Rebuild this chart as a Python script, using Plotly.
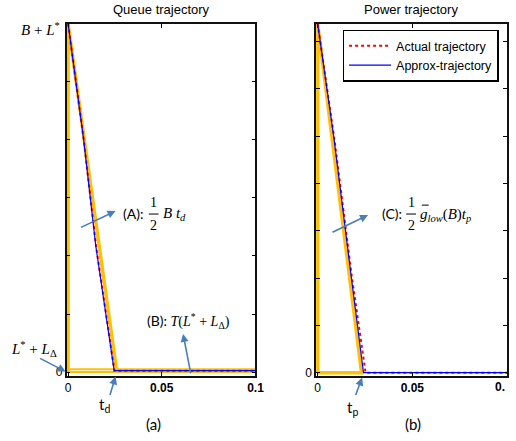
import plotly.graph_objects as go

# ---------------- data ----------------
# Queue trajectory (left)
q_time_actual = [0, 0.00825, 0.0149, 0.0237, 0.0247, 0.1]
q_actual = [6.0, 4.03, 2.17, 0.22, 0.025, 0.025]
q_time_approx = [0, 0.0082, 0.0148, 0.0236, 0.0246, 0.1]
q_approx = [6.0, 4.03, 2.17, 0.22, 0.025, 0.025]
q_bound_x = [0, 0, 0.026]
q_bound_y = [0, 6.0, 0]
q_band_x = [0, 0.1, 0.1, 0, 0]
q_band_y = [0, 0, 0.05, 0.05, 0]

# Power trajectory (right)
p_time_actual = [0, 0.00876, 0.018, 0.0253, 0.1]
p_actual = [7.375, 4.96, 2.04, 0, 0]
p_time_approx = [0, 0.0086, 0.0177, 0.0242, 0.1]
p_approx = [7.375, 4.96, 2.04, 0, 0]
p_bound_x = [0, 0, 0.0232, 0]
p_bound_y = [0, 7.375, 0, 0]

x_tickvals = [0, 0.05, 0.1]
x_ticktext = ["0", "<b>0.05</b>", "<b>0.1</b>"]
x2_ticktext = ["0", "<b>0.05</b>", ""]   # last label is cut at the page edge
q_yticks = [0, 1, 2, 3, 4, 5, 6]
p_yticks = [0, 1, 2, 3, 4, 5, 6, 7]

W, H = 516, 441
ORANGE = "#FFC000"
ARROW = "#4A7EBB"
SANS = "Liberation Sans"
SERIF = "Liberation Serif"
LABEL = "Lato"


def px(x):
    return x / W


def py(y):
    return 1 - y / H


fig = go.Figure()

# left panel
fig.add_trace(go.Scatter(x=q_bound_x, y=q_bound_y, mode="lines",
                         line=dict(color=ORANGE, width=3.5), showlegend=False,
                         xaxis="x", yaxis="y"))
fig.add_trace(go.Scatter(x=q_band_x, y=q_band_y, mode="lines",
                         line=dict(color=ORANGE, width=2), showlegend=False,
                         xaxis="x", yaxis="y"))
fig.add_trace(go.Scatter(x=q_time_actual, y=q_actual, mode="lines",
                         line=dict(color="red", width=2, dash="dot"),
                         name="Actual trajectory", legendrank=1,
                         xaxis="x", yaxis="y"))
fig.add_trace(go.Scatter(x=q_time_approx, y=q_approx, mode="lines",
                         line=dict(color="blue", width=1.2),
                         name="Approx-trajectory", legendrank=2,
                         xaxis="x", yaxis="y"))

# right panel
fig.add_trace(go.Scatter(x=p_bound_x, y=p_bound_y, mode="lines",
                         line=dict(color=ORANGE, width=3.5), showlegend=False,
                         xaxis="x2", yaxis="y2"))
fig.add_trace(go.Scatter(x=p_time_actual, y=p_actual, mode="lines",
                         line=dict(color="red", width=2, dash="dot"),
                         showlegend=False, xaxis="x2", yaxis="y2"))
fig.add_trace(go.Scatter(x=p_time_approx, y=p_approx, mode="lines",
                         line=dict(color="blue", width=1.2),
                         showlegend=False, xaxis="x2", yaxis="y2"))

axis_common = dict(showgrid=False, zeroline=False, showline=True,
                   linecolor="#111", linewidth=1.5, mirror="ticks",
                   ticks="inside", ticklen=4, tickcolor="black",
                   tickfont=dict(family=SANS, size=12, color="black"))

yd = [py(379), py(24)]
fig.update_layout(
    width=W, height=H, autosize=False,
    margin=dict(l=0, r=0, t=0, b=0),
    paper_bgcolor="white", plot_bgcolor="white",
    xaxis=dict(domain=[px(66), px(259)], range=[-0.0008, 0.1],
               tickvals=x_tickvals, ticktext=x_ticktext, anchor="y",
               **axis_common),
    yaxis=dict(domain=yd, range=[-0.06, 6.0], tickvals=q_yticks,
               ticktext=["0", "", "", "", "", "", ""], anchor="x",
               **axis_common),
    xaxis2=dict(domain=[px(321), 1.0], range=[-0.0008, 0.1],
                tickvals=x_tickvals, ticktext=x2_ticktext, anchor="y2",
                **axis_common),
    yaxis2=dict(domain=yd, range=[-0.06, 7.375], tickvals=p_yticks,
                ticktext=["0"] + [""] * 7, anchor="x2",
                **axis_common),
    legend=dict(x=px(348), y=py(30), xanchor="left", yanchor="top",
                bgcolor="white", bordercolor="black", borderwidth=1.5,
                font=dict(family=SANS, size=12.5, color="black"),
                itemwidth=42, tracegroupgap=0),
    showlegend=True,
)

anns = []


def text(t, x, y, size, family, xanchor="center", yanchor="middle"):
    anns.append(dict(text=t, x=px(x), y=py(y), xref="paper", yref="paper",
                     xanchor=xanchor, yanchor=yanchor, showarrow=False,
                     font=dict(family=family, size=size, color="black")))


def arrow(tail, head):
    anns.append(dict(text="", x=px(head[0]), y=py(head[1]), xref="paper",
                     yref="paper", ax=tail[0] - head[0], ay=tail[1] - head[1],
                     showarrow=True, arrowhead=2, arrowsize=1, arrowwidth=1.6,
                     arrowcolor=ARROW, standoff=0, startstandoff=0))


text("Queue trajectory", 163, 10, 13, SANS)
text("Power trajectory", 418, 10, 13, SANS)
text("<i>B</i> + <i>L</i><sup>*</sup>", 61, 29, 15, SERIF, xanchor="right")
text("<i>L</i><sup>*</sup> + <i>L</i><sub>Δ</sub>", 33, 352, 15, SERIF)
text("<b>0.</b>", 516, 391, 12, SANS, xanchor="right")

# (A)
text("(A):", 122, 215, 14, LABEL, xanchor="left")
text("1", 155, 204, 14, SERIF)
text("2", 155, 228, 14, SERIF)
text("<i>B t</i><sub><i>d</i></sub>", 162, 216, 15, SERIF, xanchor="left")
# (B)
text("(B):<span style='font-family:Liberation Serif'> <i>T</i>(<i>L</i><sup>*</sup> + <i>L</i><sub>Δ</sub>)</span>",
     146, 324, 14, LABEL, xanchor="left")
# (C)
text("(C):", 386, 215, 14, LABEL, xanchor="left")
text("1", 418, 204, 14, SERIF)
text("2", 418, 228, 14, SERIF)
text("<i>g</i><sub><i>low</i></sub>(<i>B</i>)<i>t</i><sub><i>p</i></sub>",
     425, 217, 15, SERIF, xanchor="left")

text("t<sub>d</sub>", 105, 409, 15, LABEL)
text("(a)", 155, 428, 15, LABEL)
text("t<sub>p</sub>", 358, 412, 15, LABEL)
text("(b)", 420, 428, 15, LABEL)

arrow((38, 361), (65, 375))
arrow((110, 400), (116, 380))
arrow((193, 378), (185, 337))
arrow((80, 230), (116, 213))
arrow((337, 235), (374, 217))
arrow((361, 400), (368, 381))

fig.update_layout(annotations=anns)

shapes = [
    dict(type="line", xref="paper", yref="paper", x0=px(150), x1=px(160),
         y0=py(216), y1=py(216), line=dict(color="black", width=1)),
    dict(type="line", xref="paper", yref="paper", x0=px(413), x1=px(423),
         y0=py(216), y1=py(216), line=dict(color="black", width=1)),
    dict(type="line", xref="paper", yref="paper", x0=px(429), x1=px(436),
         y0=py(207), y1=py(207), line=dict(color="black", width=1)),
]
fig.update_layout(shapes=shapes)

fig.write_html("out.html",
               config={"responsive": False, "displayModeBar": False},
               post_script="document.body.style.margin='0';document.body.style.overflow='hidden';")
